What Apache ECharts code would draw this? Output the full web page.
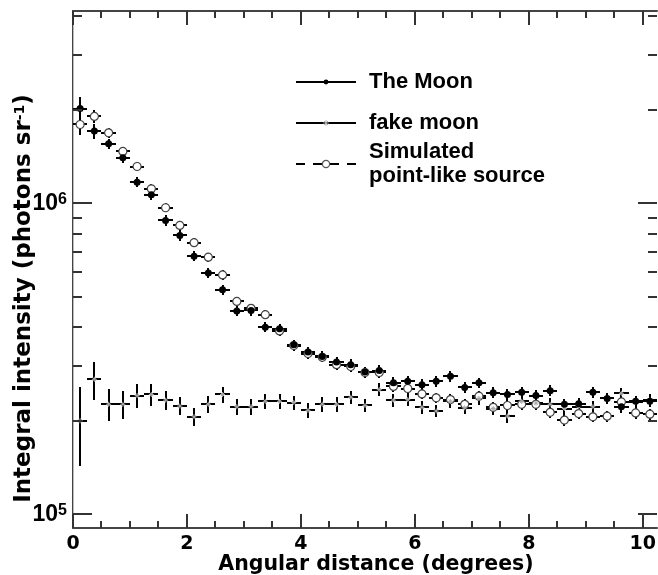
<!DOCTYPE html>
<html><head><meta charset="utf-8">
<script src="https://cdn.jsdelivr.net/npm/echarts@6/dist/echarts.min.js"></script>
<style>html,body{margin:0;padding:0;background:#fff}#c{width:658px;height:575px}</style>
</head><body><div id="c"></div>
<script>
// ---- data ----
const angle = [0.125, 0.375, 0.625, 0.875, 1.125, 1.375, 1.625, 1.875, 2.125, 2.375, 2.625, 2.875, 3.125, 3.375, 3.625, 3.875, 4.125, 4.375, 4.625, 4.875, 5.125, 5.375, 5.625, 5.875, 6.125, 6.375, 6.625, 6.875, 7.125, 7.375, 7.625, 7.875, 8.125, 8.375, 8.625, 8.875, 9.125, 9.375, 9.625, 9.875, 10.125];
const binHalfWidth = 0.125;
const moon = [2.02e6, 1.71e6, 1.556e6, 1.403e6, 1.171e6, 1.066e6, 8.82e5, 7.89e5, 6.77e5, 5.97e5, 5.28e5, 4.51e5, 4.53e5, 4.00e5, 3.955e5, 3.51e5, 3.33e5, 3.22e5, 3.09e5, 3.03e5, 2.87e5, 2.90e5, 2.65e5, 2.68e5, 2.61e5, 2.68e5, 2.78e5, 2.56e5, 2.65e5, 2.46e5, 2.43e5, 2.47e5, 2.41e5, 2.50e5, 2.26e5, 2.27e5, 2.47e5, 2.36e5, 2.22e5, 2.31e5, 2.31e5];
const moonErr = [188000, 95000, 62000, 53000, 44000, 40000, 33000, 30000, 26000, 23000, 20000, 17000, 17000, 15000, 15000, 13500, 13000, 12500, 12000, 12000, 11500, 11500, 11000, 11000, 11000, 11000, 11000, 10500, 10500, 10000, 10000, 10000, 10000, 10000, 9500, 9500, 10000, 9500, 9500, 9500, 9500];
const fakeMoon = [2.00e5, 2.72e5, 2.26e5, 2.26e5, 2.41e5, 2.43e5, 2.33e5, 2.23e5, 2.06e5, 2.26e5, 2.43e5, 2.22e5, 2.22e5, 2.31e5, 2.31e5, 2.29e5, 2.16e5, 2.26e5, 2.26e5, 2.38e5, 2.24e5, 2.52e5, 2.33e5, 2.34e5, 2.21e5, 2.15e5, 2.31e5, 2.20e5, 2.36e5, 2.19e5, 2.07e5, 2.31e5, 2.28e5, 2.26e5, 2.19e5, 2.22e5, 2.22e5, 2.36e5, 2.45e5, 2.30e5, 2.33e5];
const fakeErr = [57000, 38000, 27000, 24000, 21000, 20000, 16000, 15000, 14000, 14000, 14000, 13000, 13000, 13000, 13000, 12000, 12000, 12000, 12000, 12000, 11000, 12000, 11000, 11000, 11000, 10000, 11000, 10000, 11000, 10000, 10000, 10000, 10000, 10000, 10000, 10000, 10000, 10000, 10000, 10000, 10000];
const simulated = [1.795e6, 1.905e6, 1.688e6, 1.470e6, 1.315e6, 1.115e6, 9.69e5, 8.50e5, 7.48e5, 6.72e5, 5.89e5, 4.84e5, 4.60e5, 4.39e5, 3.89e5, 3.49e5, 3.29e5, 3.20e5, 3.03e5, 2.99e5, 2.86e5, 2.86e5, 2.58e5, 2.54e5, 2.44e5, 2.37e5, 2.34e5, 2.26e5, 2.40e5, 2.21e5, 2.24e5, 2.26e5, 2.26e5, 2.13e5, 2.01e5, 2.11e5, 2.06e5, 2.07e5, 2.30e5, 2.12e5, 2.10e5];
const simErr = [138000, 87000, 62000, 50000, 44000, 38000, 33000, 29000, 26000, 23000, 20000, 17000, 16000, 15000, 13500, 12500, 12000, 11500, 11000, 11000, 10500, 10500, 10000, 10000, 9500, 9500, 9500, 9000, 9500, 9000, 9000, 9000, 9000, 9000, 8500, 9000, 8500, 8500, 9000, 9000, 9000];
const seriesNames = ['The Moon', 'fake moon', 'Simulated point-like source'];
const xRange = [0, 10.25];
const yRange = [90400, 4.16e6];
const xMajorTicks = [0, 2, 4, 6, 8, 10];
const xMinorTicks = [0.5, 1, 1.5, 2.5, 3, 3.5, 4.5, 5, 5.5, 6.5, 7, 7.5, 8.5, 9, 9.5];
const yMajorTicks = [1e5, 1e6];
const yMinorTicks = [2e5, 3e5, 4e5, 5e5, 6e5, 7e5, 8e5, 9e5, 2e6, 3e6, 4e6];

// ---- helpers ----
const pts = ys => angle.map((x, i) => [x, ys[i]]);
const errs = (ys, es) => angle.map((x, i) => [x, ys[i], ys[i] - es[i], ys[i] + es[i]]);
const tickData = [].concat(
  xMinorTicks.map(v => [v, yRange[0], 0]),
  xMajorTicks.map(v => [v, yRange[0], 1]),
  yMinorTicks.map(v => [xRange[0], v, 2]),
  yMajorTicks.map(v => [xRange[0], v, 3])
);
const R = Math.round;

function errorRender(params, api) {
  const x = api.value(0), y = api.value(1), lo = api.value(2), hi = api.value(3);
  const a = api.coord([x - binHalfWidth, y]), b = api.coord([x + binHalfWidth, y]);
  const c = api.coord([x, lo]), d = api.coord([x, hi]);
  const st = { stroke: '#000', lineWidth: 2 };
  return { type: 'group', children: [
    { type: 'line', shape: { x1: R(a[0]), y1: R(a[1]), x2: R(b[0]), y2: R(a[1]) }, style: st },
    { type: 'line', shape: { x1: R(c[0]), y1: R(c[1]), x2: R(c[0]), y2: R(d[1]) }, style: st }
  ] };
}
function tickRender(params, api) {
  const kind = api.value(2);
  const st = { stroke: '#333', lineWidth: 2 };
  if (kind < 2) {
    const v = api.value(0), len = kind === 1 ? 14 : 7;
    const p0 = api.coord([v, yRange[0]]), p1 = api.coord([v, yRange[1]]);
    return { type: 'group', children: [
      { type: 'line', shape: { x1: R(p0[0]), y1: p0[1], x2: R(p0[0]), y2: p0[1] - len }, style: st },
      { type: 'line', shape: { x1: R(p1[0]), y1: p1[1], x2: R(p1[0]), y2: p1[1] + len }, style: st }
    ] };
  }
  const v = api.value(1), len = kind === 3 ? 19 : 9;
  const p0 = api.coord([xRange[0], v]), p1 = api.coord([xRange[1], v]);
  return { type: 'group', children: [
    { type: 'line', shape: { x1: p0[0], y1: R(p0[1]), x2: p0[0] + len, y2: R(p0[1]) }, style: st },
    { type: 'line', shape: { x1: p1[0], y1: R(p1[1]), x2: p1[0] - len, y2: R(p1[1]) }, style: st }
  ] };
}

const STAR = 'path://M0,-10L0,10M-10,0L10,0M-7,-7L7,7M-7,7L7,-7';
const hiddenLine = { width: 0, opacity: 0 };
const legendText = { fontFamily: 'Liberation Sans', fontWeight: 'bold', fontSize: 22, color: '#000', lineHeight: 24, padding: [0, 0, 0, 8] };
const legendCommon = { orient: 'vertical', left: 295, padding: 0, itemWidth: 60, selectedMode: false, textStyle: legendText };
const boldDV = { fontFamily: 'DejaVu Sans', fontWeight: 'bold', color: '#000' };

const chart = echarts.init(document.getElementById('c'), null, { renderer: 'canvas' });
chart.setOption({
  animation: false,
  backgroundColor: '#fff',
  grid: { left: 73, right: 1, top: 11, bottom: 47, containLabel: false, outerBoundsMode: 'none' },
  legend: [
    Object.assign({}, legendCommon, { top: 70, itemHeight: 6,
      data: [{ name: seriesNames[0], itemStyle: { color: '#000', borderWidth: 0 }, lineStyle: { color: '#000', width: 2, opacity: 1, type: 'solid' } }] }),
    Object.assign({}, legendCommon, { top: 111, itemHeight: 7,
      data: [{ name: seriesNames[1], itemStyle: { color: 'rgba(0,0,0,0)', borderColor: '#aaa', borderWidth: 1 }, lineStyle: { color: '#000', width: 2, opacity: 1, type: 'solid' } }] }),
    Object.assign({}, legendCommon, { top: 140, itemHeight: 9, formatter: () => 'Simulated\npoint-like source',
      data: [{ name: seriesNames[2], itemStyle: { color: '#fff', borderColor: '#555', borderWidth: 1.2 }, lineStyle: { color: '#000', width: 2, opacity: 1, type: [9, 8] } }] })
  ],
  xAxis: [
    { type: 'value', position: 'bottom', min: xRange[0], max: xRange[1], interval: 2,
      axisLine: { lineStyle: { color: '#444', width: 2 } }, axisTick: { show: false }, splitLine: { show: false },
      axisLabel: Object.assign({}, boldDV, { fontSize: 19, margin: 7, showMaxLabel: false,
        formatter: v => (Math.abs(v - Math.round(v)) < 1e-9 ? String(v) : '') }),
      name: 'Angular distance (degrees)', nameLocation: 'middle', nameGap: 26, nameMoveOverlap: false,
      nameTextStyle: Object.assign({}, boldDV, { fontSize: 20.5, padding: [0, 0, 0, 22] }) },
    { type: 'value', position: 'top', min: xRange[0], max: xRange[1], interval: 2,
      axisLine: { lineStyle: { color: '#444', width: 2 } }, axisTick: { show: false },
      axisLabel: { show: false }, splitLine: { show: false } }
  ],
  yAxis: [
    { type: 'log', logBase: 10, position: 'left', min: yRange[0], max: yRange[1],
      axisLine: { lineStyle: { color: '#444', width: 2 } }, axisTick: { show: false }, splitLine: { show: false },
      axisLabel: { margin: 6, showMinLabel: false, showMaxLabel: false,
        formatter: v => { const e = Math.round(Math.log10(v)); return Math.abs(Math.log10(v) - e) < 1e-6 ? '{b|10}{s|' + e + '}' : ''; },
        rich: {
          b: { fontFamily: 'Liberation Sans', fontWeight: 'bold', fontSize: 23, color: '#000', verticalAlign: 'bottom' },
          s: { fontFamily: 'Liberation Sans', fontWeight: 'bold', fontSize: 16, color: '#000', verticalAlign: 'top' }
        } },
      name: '{a|Integral intensity (photons sr}{s|-1}{a|)}', nameLocation: 'middle', nameGap: 37, nameMoveOverlap: false,
      nameTextStyle: { padding: [0, 58, 0, 0], rich: {
        a: Object.assign({}, boldDV, { fontSize: 23 }),
        s: Object.assign({}, boldDV, { fontSize: 14, verticalAlign: 'top' }) } } },
    { type: 'log', logBase: 10, position: 'right', min: yRange[0], max: yRange[1],
      axisLine: { lineStyle: { color: '#bbb', width: 1 } }, axisTick: { show: false },
      axisLabel: { show: false }, splitLine: { show: false } }
  ],
  series: [
    { type: 'custom', name: 'simErr', renderItem: errorRender, data: errs(simulated, simErr), encode: { x: 0, y: 1 }, z: 2, silent: true, clip: true },
    { type: 'custom', name: 'fakeErr', renderItem: errorRender, data: errs(fakeMoon, fakeErr), encode: { x: 0, y: 1 }, z: 2, silent: true, clip: true },
    { type: 'custom', name: 'moonErr', renderItem: errorRender, data: errs(moon, moonErr), encode: { x: 0, y: 1 }, z: 2, silent: true, clip: true },
    { type: 'line', name: seriesNames[2], data: pts(simulated), symbol: 'circle', symbolSize: 8,
      itemStyle: { color: '#fff', borderColor: '#444', borderWidth: 1.2 }, lineStyle: hiddenLine, z: 3, silent: true },
    { type: 'line', name: seriesNames[1], data: pts(fakeMoon), symbol: STAR, symbolSize: 5,
      itemStyle: { color: 'rgba(0,0,0,0)', borderColor: '#aaa', borderWidth: 1 }, lineStyle: hiddenLine, z: 4, silent: true },
    { type: 'line', name: seriesNames[0], data: pts(moon), symbol: 'circle', symbolSize: 7,
      itemStyle: { color: '#000' }, lineStyle: hiddenLine, z: 5, silent: true },
    { type: 'custom', name: 'ticks', renderItem: tickRender, data: tickData, encode: { x: 0, y: 1 }, z: 6, silent: true, clip: false }
  ]
});
</script></body></html>
